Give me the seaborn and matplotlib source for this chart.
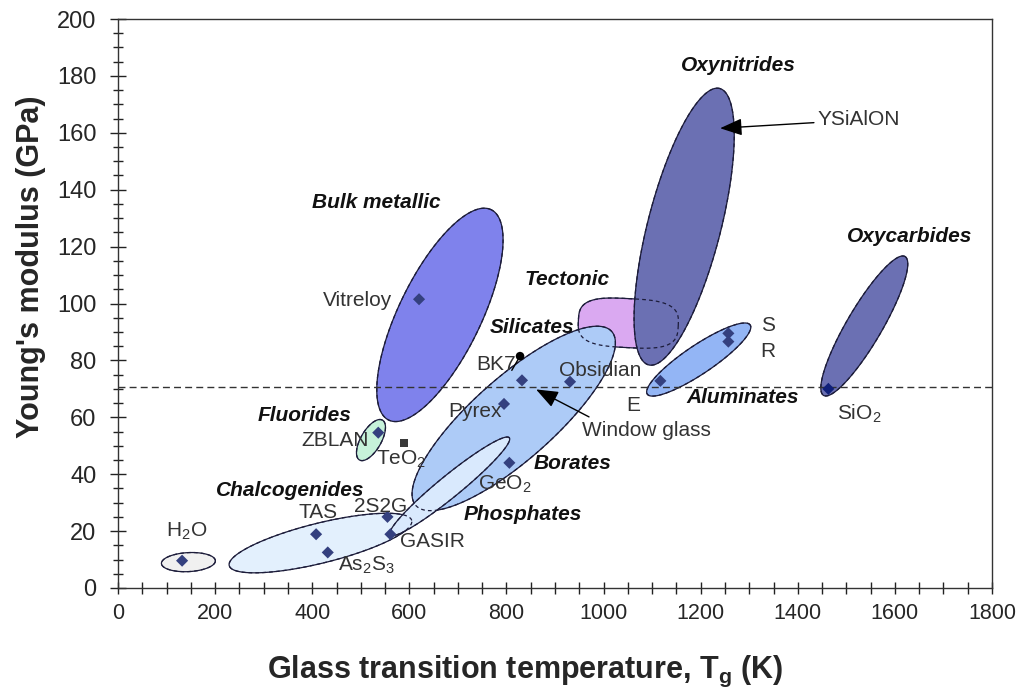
import numpy as np
import pandas as pd
import matplotlib
import matplotlib.pyplot as plt
import seaborn as sns
from matplotlib.ticker import MultipleLocator

matplotlib.use("Agg")

# ---------------------------------------------------------------------------
# Data: glass families (regions) and individual glasses
# ---------------------------------------------------------------------------
FAMILY_NAMES = ["H2O", "Chalcogenides", "Fluorides", "Bulk metallic", "Tectonic",
                "Silicates", "Phosphates", "Oxynitrides", "Aluminates", "Oxycarbides"]
FAMILY_TG = [145, 417, 521, 663, 1051, 815, 683, 1166, 1196, 1537]
FAMILY_E = [9.1, 15.8, 52.0, 96.0, 93.1, 59.6, 35.7, 127.0, 80.3, 92.1]

GLASS_NAMES = ["Vitreloy", "BK7", "Window glass", "Obsidian", "Pyrex", "GeO2", "TeO2",
               "ZBLAN", "2S2G", "GASIR", "TAS", "As2S3", "H2O", "E", "S", "R",
               "SiO2", "YSiAlON"]
GLASS_TG = [620, 828, 832, 931, 795, 806, 589, 536, 555, 561, 408, 432, 132,
            1117, 1257, 1257, 1463, 1240]
GLASS_E = [101.5, 81.5, 73.0, 72.5, 64.7, 44.0, 51.0, 54.6, 25.0, 18.9, 18.9,
           12.5, 9.6, 72.8, 89.5, 86.6, 70.0, 161.6]
GLASS_KIND = ["glass", "bk7", "glass", "glass", "glass", "glass", "teo2", "glass",
              "glass", "glass", "glass", "glass", "glass", "glass", "glass", "glass",
              "silica", "none"]

SILICA_E = 70.5

# region shapes (screen pixels: semi-axes, tilt, superellipse exponent) and fills
SHAPE_A = [27, 94, 23, 117, 50, 131, 77, 142.7, 62, 80.5]
SHAPE_B = [9.5, 20, 10.2, 41, 24.5, 41, 11, 36.5, 14.3, 17.6]
SHAPE_ANGLE = [3, 13.9, 60, 64, -3, 41.6, 39.2, 75.6, 33.9, 59.6]
SHAPE_POW = [2, 2, 2, 2, 3.2, 2, 2, 2, 2, 2]
FILLS = ["#f0f0f0", "#e3f0fd", "#c6f2da", "#7f82ec", "#daa9f1",
         "#adcbf7", "#d9e9fd", "#6b70b3", "#93b5f5", "#6b70b3"]

glasses = pd.DataFrame({"name": GLASS_NAMES, "tg": GLASS_TG, "E": GLASS_E, "kind": GLASS_KIND})

sns.set_theme(style="white")
plt.rcParams["font.family"] = ["Liberation Sans", "DejaVu Sans"]
plt.rcParams["mathtext.fontset"] = "custom"
plt.rcParams["mathtext.rm"] = "Liberation Sans"
plt.rcParams["mathtext.bf"] = "Liberation Sans:bold"

fig = plt.figure(figsize=(10.23, 6.93), dpi=100)
ax = fig.add_axes([118 / 1023, 1 - 588 / 693, 874 / 1023, 569 / 693])
ax.set_xlim(0, 1800)
ax.set_ylim(0, 200)

px_per_k = ax.get_window_extent().width / 1800
px_per_gpa = ax.get_window_extent().height / 200


def region_outline(cx, cy, a, b, ang, n):
    t = np.linspace(0, 2 * np.pi, 300)
    c, s = np.cos(t), np.sin(t)
    u = a * np.sign(c) * np.abs(c) ** (2 / n)
    v = b * np.sign(s) * np.abs(s) ** (2 / n)
    th = np.radians(ang)
    dx = u * np.cos(th) - v * np.sin(th)
    dy = u * np.sin(th) + v * np.cos(th)
    return cx + dx / px_per_k, cy + dy / px_per_gpa


# filled regions, then dashed outlines on top so hidden borders show through
for i in range(len(FAMILY_NAMES)):
    xs, ys = region_outline(FAMILY_TG[i], FAMILY_E[i], SHAPE_A[i], SHAPE_B[i],
                            SHAPE_ANGLE[i], SHAPE_POW[i])
    ax.fill(xs, ys, facecolor=FILLS[i], edgecolor="#1c1c3a", lw=0.9, zorder=2 + i * 0.1)
    ax.plot(xs, ys, color="#1c1c3a", lw=0.9, ls=(0, (3, 2.5)), zorder=4)

ax.axhline(SILICA_E, color="#333333", lw=1, ls=(0, (5, 3)), zorder=4.5)

pts = glasses[glasses["kind"] != "none"]
sns.scatterplot(
    data=pts, x="tg", y="E", hue="kind", style="kind",
    palette={"glass": "#34407f", "bk7": "#000000", "teo2": "#3a3a3a", "silica": "#10207a"},
    markers={"glass": "D", "bk7": "o", "teo2": "s", "silica": "D"},
    s=38, edgecolor="none", legend=False, ax=ax, zorder=5,
)

# family labels
family_labels = [
    ("Bulk metallic", 533, 135.5), ("Oxynitrides", 1277, 183.5), ("Oxycarbides", 1631, 123.5),
    ("Tectonic", 925, 108.6), ("Silicates", 853, 91.7), ("Fluorides", 385, 60.5),
    ("Chalcogenides", 354, 34.4), ("Borates", 937, 43.6), ("Phosphates", 834, 26.0),
    ("Aluminates", 1287, 66.8),
]
for txt, x, y in family_labels:
    ax.text(x, y, txt, fontsize=15, fontweight="bold", fontstyle="italic",
            ha="center", va="center", color="#111111", zorder=6)

# glass labels
glass_labels = [
    ("Vitreloy", 494, 100.9), ("BK7", 778, 78.7), ("Obsidian", 993, 76.6),
    ("Pyrex", 735, 62.2), ("E", 1061, 64.3), ("S", 1339, 92.4), ("R", 1339, 83.3),
    ("SiO$_2$", 1526, 61.2), ("ZBLAN", 447, 51.7), ("TeO$_2$", 583, 45.3),
    ("GeO$_2$", 797, 36.6), ("TAS", 412, 26.4), ("2S2G", 540, 28.5),
    ("GASIR", 647, 16.5), ("As$_2$S$_3$", 511, 8.1), ("H$_2$O", 142, 20.0),
]
for txt, x, y in glass_labels:
    ax.text(x, y, txt, fontsize=15, ha="center", va="center", color="#333333", zorder=6)

ax.annotate("YSiAlON", xy=(GLASS_TG[-1], GLASS_E[-1]), xytext=(1440, 164.5),
            fontsize=15, color="#333333", ha="left", va="center", zorder=6,
            arrowprops=dict(arrowstyle="-|>,head_length=0.9,head_width=0.35",
                            color="black", lw=1, shrinkA=0, shrinkB=0))
ax.annotate("Window glass", xy=(861, 69.8), xytext=(1089, 55.2),
            fontsize=15, color="#333333", ha="center", va="center", zorder=6,
            arrowprops=dict(arrowstyle="-|>,head_length=0.9,head_width=0.35",
                            color="black", lw=1, shrinkA=2, shrinkB=0,
                            relpos=(0.12, 1.0)))
ax.plot([811, GLASS_TG[1]], [76.5, GLASS_E[1]], color="black", lw=1, zorder=5)

# axes styling
ax.xaxis.set_major_locator(MultipleLocator(200))
ax.xaxis.set_minor_locator(MultipleLocator(50))
ax.yaxis.set_major_locator(MultipleLocator(20))
ax.yaxis.set_minor_locator(MultipleLocator(5))
ax.tick_params(axis="x", which="both", direction="inout", length=9, width=1,
               color="#222222", bottom=True, labelsize=15.5, pad=6)
ax.tick_params(axis="y", which="major", direction="inout", length=11, width=1,
               color="#222222", left=True, labelsize=17, pad=10)
ax.tick_params(axis="y", which="minor", direction="inout", length=7, width=1,
               color="#222222", left=True)
for sp in ax.spines.values():
    sp.set_visible(True)
    sp.set_color("#333333")
    sp.set_linewidth(1)

ax.set_xlabel("Glass transition temperature, T$_\\mathbf{g}$ (K)", fontsize=22,
              fontweight="bold", labelpad=22)
ax.set_ylabel("Young's modulus (GPa)", fontsize=22, fontweight="bold", labelpad=8)
ax.xaxis.label.set_x((525 - 118) / 874)
ax.yaxis.label.set_y((588 - 267) / 569)

fig.savefig("out.png", dpi=100)
